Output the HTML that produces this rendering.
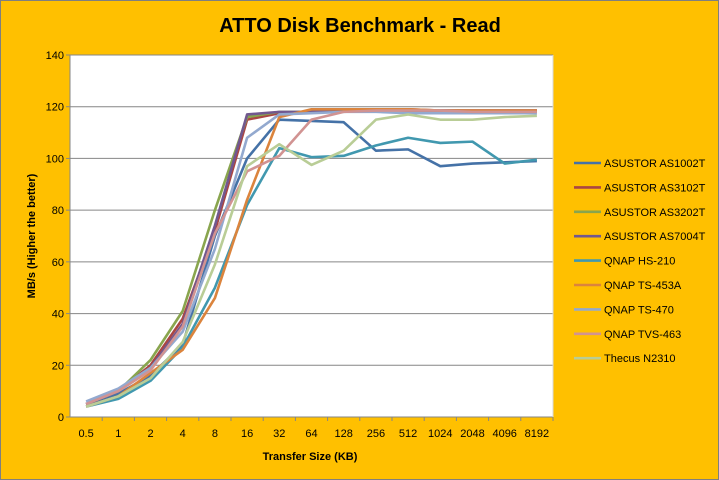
<!DOCTYPE html>
<html><head><meta charset="utf-8"><style>
body{margin:0;background:#ffc000;}
svg{display:block;font-family:"Liberation Sans",sans-serif;}
</style></head><body>
<svg width="719" height="480">
<rect x="0.5" y="0.5" width="718" height="479" fill="#ffc000" stroke="#7f7f7f"/>
<text x="360" y="32" font-size="20" font-weight="bold" text-anchor="middle" fill="#000">ATTO Disk Benchmark - Read</text>
<rect x="70" y="55" width="483" height="362" fill="#fff"/>
<g id="grid"></g><g id="axes"></g><g id="series"></g><g id="legend"></g>
<text x="310" y="460" font-size="11" font-weight="bold" text-anchor="middle">Transfer Size (KB)</text>
<text transform="translate(35,236) rotate(-90)" font-size="11" font-weight="bold" text-anchor="middle">MB/s (Higher the better)</text>
</svg>
<script>
const categories=["0.5","1","2","4","8","16","32","64","128","256","512","1024","2048","4096","8192"];
const yTicks=[0,20,40,60,80,100,120,140];
const seriesNames=["ASUSTOR AS1002T","ASUSTOR AS3102T","ASUSTOR AS3202T","ASUSTOR AS7004T","QNAP HS-210","QNAP TS-453A","QNAP TS-470","QNAP TVS-463","Thecus N2310"];
const seriesColors=["#4572a7","#aa4643","#89a54e","#71588f","#4198af","#db843d","#93a9cf","#d19392","#b9cd96"];
const sAS1002T=[5,9,16,28,70,100,115,114.5,114,103,103.5,97,98,98.5,99];
const sAS3102T=[5,10,20,38,72,115,117.5,118,119,119,119,118.5,118.5,118.5,118.5];
const sAS3202T=[5,10,22,41,80,116,118,118,118.5,118.5,118,118,118,118,118];
const sAS7004T=[5,10,19,36,74,117,118,118,118.5,118.5,118.5,118.5,118.5,118.5,118.5];
const sHS210=[4,7,14,27,50,82,104,100.5,101,105,108,106,106.5,98,99.5];
const sTS453A=[4,8,17,26,46,84,116,119,119,119,119,118.5,118.5,118.5,118.5];
const sTS470=[6,11,19,33,65,108,117,117.5,118,118,117.5,117.5,117.5,117.5,117.5];
const sTVS463=[5,10,18,35,71,95,101,115,118,118.5,118.5,118.5,118,118,118];
const sN2310=[4,8,15,29,59,97,105.5,97.5,103,115,117,115,115,116,116.5];
const allSeries=[sAS1002T,sAS3102T,sAS3202T,sAS7004T,sHS210,sTS453A,sTS470,sTVS463,sN2310];
const NS="http://www.w3.org/2000/svg";
const L=70,R=553,T=55,B=417,YMAX=140;
const bw=(R-L)/categories.length;
const xS=i=>L+bw*(i+0.5);
const yS=v=>B-(v/YMAX)*(B-T);
function mk(tag,attrs,parent){const e=document.createElementNS(NS,tag);for(const k in attrs)e.setAttribute(k,attrs[k]);parent.appendChild(e);return e;}
const grid=document.getElementById('grid'),axes=document.getElementById('axes'),ser=document.getElementById('series'),leg=document.getElementById('legend');
yTicks.forEach(v=>{
 if(v>0){const g=mk('line',{x1:L,x2:R,y1:yS(v),y2:yS(v),stroke:'#868686','stroke-width':1},grid);
 
 }
 const t=mk('text',{x:L-6,y:yS(v)+4,'font-size':11,'text-anchor':'end'},axes);
 t.textContent=v;
 
 
 mk('line',{x1:L-4,x2:L,y1:yS(v),y2:yS(v),stroke:'#868686'},axes);
});
mk('line',{x1:L,x2:L,y1:T,y2:B,stroke:'#868686'},axes);
mk('line',{x1:L,x2:R,y1:B,y2:B,stroke:'#868686'},axes);
mk('line',{x1:R,x2:R,y1:T,y2:B,stroke:'#d9d9d9'},axes);
categories.forEach((c,i)=>{
 mk('line',{x1:L+bw*(i+1),x2:L+bw*(i+1),y1:B,y2:B+4,stroke:'#868686'},axes);
 const t=mk('text',{x:xS(i),y:B+20,'font-size':11,'text-anchor':'middle'},axes);
 t.textContent=c;
 
 
});
allSeries.forEach((s,k)=>{
 const p=mk('polyline',{points:s.map((v,i)=>xS(i)+','+yS(v)).join(' '),fill:'none',stroke:seriesColors[k],'stroke-width':2.6,'stroke-linejoin':'round'},ser);
 
 
 const y=163+k*24.4;
 const g=mk('g',{},leg);
 
 
 mk('line',{x1:574,x2:601,y1:y,y2:y,stroke:seriesColors[k],'stroke-width':2.6},g);
 const t=mk('text',{x:604,y:y+4,'font-size':11},g);
 t.textContent=seriesNames[k];
});
</script>
</body></html>
